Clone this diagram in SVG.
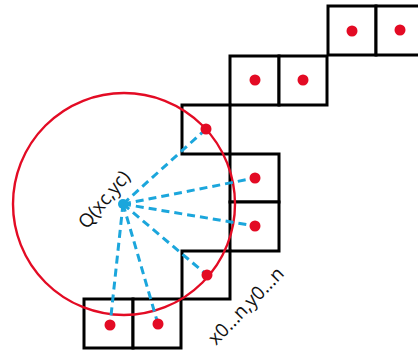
<svg xmlns="http://www.w3.org/2000/svg" width="418" height="353" viewBox="0 0 418 353">
  <style>
    .cell { fill: #ffffff; stroke: #000000; stroke-width: 3; }
    .pt { fill: #e30b24; }
    .ray { stroke: #1ba6dc; stroke-width: 3; stroke-dasharray: 8 5; fill: none; }
    .lbl { font-family: "Open Sans", "Liberation Sans", sans-serif; font-size: 19px; fill: #111111; }
  </style>
  <rect width="418" height="353" fill="#ffffff"/>

  <!-- pixel cells along the arc -->
  <g id="cells-row1">
    <rect class="cell" x="328" y="6" width="48" height="49"/>
    <rect class="cell" x="376" y="6" width="48" height="49"/>
  </g>
  <g id="cells-row2">
    <rect class="cell" x="230" y="56" width="49" height="49"/>
    <rect class="cell" x="279" y="56" width="48" height="49"/>
  </g>
  <g id="cell-row3">
    <rect class="cell" x="182" y="105" width="48" height="49"/>
  </g>
  <g id="cells-row4">
    <rect class="cell" x="230" y="154" width="49" height="48"/>
    <rect class="cell" x="230" y="202" width="49" height="49"/>
  </g>
  <g id="cell-row5">
    <rect class="cell" x="182" y="251" width="48" height="48"/>
  </g>
  <g id="cells-row6">
    <rect class="cell" x="84" y="299" width="49" height="49"/>
    <rect class="cell" x="133" y="299" width="48" height="49"/>
  </g>

  <!-- ideal circle -->
  <g id="circle">
    <circle cx="124" cy="204" r="111" fill="none" stroke="#e30b24" stroke-width="2.4"/>
  </g>

  <!-- distances from centre to sample points -->
  <g id="connectors">
    <line class="ray" x1="123" y1="204" x2="206" y2="129"/>
    <line class="ray" x1="123" y1="204" x2="255" y2="178"/>
    <line class="ray" x1="123" y1="204" x2="255" y2="226"/>
    <line class="ray" x1="123" y1="204" x2="207" y2="275"/>
    <line class="ray" x1="123" y1="204" x2="110" y2="325"/>
    <line class="ray" x1="123" y1="204" x2="158" y2="324"/>
  </g>

  <!-- pixel centre points -->
  <g id="points">
    <circle class="pt" cx="352" cy="31" r="5.5"/>
    <circle class="pt" cx="400" cy="30" r="5.5"/>
    <circle class="pt" cx="255" cy="80" r="5.5"/>
    <circle class="pt" cx="303" cy="80" r="5.5"/>
    <circle class="pt" cx="206" cy="129" r="5.5"/>
    <circle class="pt" cx="255" cy="178" r="5.5"/>
    <circle class="pt" cx="255" cy="226" r="5.5"/>
    <circle class="pt" cx="207" cy="275" r="5.5"/>
    <circle class="pt" cx="110" cy="325" r="5.5"/>
    <circle class="pt" cx="158" cy="324" r="5.5"/>
  </g>

  <g id="centre">
    <circle cx="123" cy="204" r="5" fill="#1ba6dc"/>
    <text class="lbl" transform="translate(87 230) rotate(-50)">Q(xc,yc)</text>
  </g>

  <g id="range-label">
    <text class="lbl" transform="translate(216 346) rotate(-46)">x0...n,y0...n</text>
  </g>
</svg>
